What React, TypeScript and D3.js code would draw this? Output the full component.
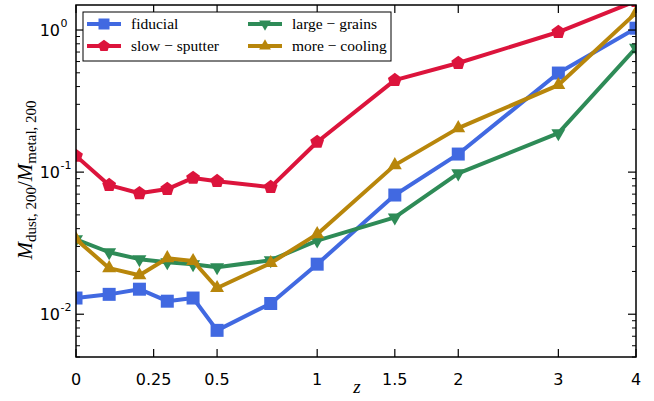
import React from "react";
import * as d3 from "d3";

const redshifts = [0, 0.1, 0.2, 0.3, 0.4, 0.5, 0.75, 1, 1.5, 2, 3, 4];
const fiducial = [0.0130, 0.0138, 0.0150, 0.01235, 0.0130, 0.0077, 0.0119, 0.0225, 0.069, 0.134, 0.498, 1.03];
const slowSputter = [0.130, 0.081, 0.071, 0.076, 0.091, 0.0864, 0.0784, 0.163, 0.444, 0.586, 0.968, 1.6];
const largeGrains = [0.0337, 0.0273, 0.0244, 0.0232, 0.0225, 0.0214, 0.024, 0.033, 0.048, 0.098, 0.188, 0.75];
const moreCooling = [0.0337, 0.0211, 0.0188, 0.0248, 0.0237, 0.0153, 0.0229, 0.0366, 0.112, 0.204, 0.41, 1.32];
const xTicks = [0, 0.25, 0.5, 1, 1.5, 2, 3, 4];
const xTickLabels = ["0", "0.25", "0.5", "1", "1.5", "2", "3", "4"];
const yMajor = [0.01, 0.1, 1];
const yMajorExp = ["-2", "-1", "0"];

const seriesNames = ["fiducial", "slow \u2212 sputter", "large \u2212 grains", "more \u2212 cooling"];
const seriesColors = ["#4169E1", "#DC143C", "#2E8B57", "#B8860B"];
const seriesMarkers = ["square", "pentagon", "tridown", "triup"];
const seriesData = [fiducial, slowSputter, largeGrains, moreCooling];

const L = 76, R = 636, T = 5, B = 357;

function markerPath(kind: string, s: number): string {
  if (kind === "square") {
    const h = s * 0.5;
    return `M${-h},${-h}H${h}V${h}H${-h}Z`;
  }
  if (kind === "pentagon") {
    const r = s * 0.56;
    const pts = d3.range(5).map((i) => {
      const a = -Math.PI / 2 + (i * 2 * Math.PI) / 5;
      return [r * Math.cos(a), r * Math.sin(a)];
    });
    return "M" + pts.map((p) => p.join(",")).join("L") + "Z";
  }
  const r = s * 0.62;
  if (kind === "triup") {
    return `M0,${-r}L${r * 0.866},${r * 0.5}L${-r * 0.866},${r * 0.5}Z`;
  }
  return `M0,${r}L${r * 0.866},${-r * 0.5}L${-r * 0.866},${-r * 0.5}Z`;
}

const tickFont: React.CSSProperties = { fontFamily: "DejaVu Sans, sans-serif" };
const serifFont: React.CSSProperties = { fontFamily: "Liberation Serif, DejaVu Serif, serif" };

export default function App() {
  const x = d3.scaleLog().domain([1, 5]).range([L, R]);
  const y = d3.scaleLog().domain([0.005, 1.5]).range([B, T]);
  const px = (z: number) => x(1 + z);

  const line = d3
    .line<number>()
    .x((_, i) => px(redshifts[i]))
    .y((d) => y(d));

  const minorY: number[] = [];
  for (const dec of [0.001, 0.01, 0.1, 1]) {
    for (let k = 2; k <= 9; k++) {
      const v = dec * k;
      if (v >= 0.005 && v <= 1.5) minorY.push(v);
    }
  }

  return (
    <svg width={654} height={401} style={{ display: "block", position: "absolute", left: 0, top: 0 }}>
      <defs>
        <clipPath id="plotclip">
          <rect x={L} y={T} width={R - L} height={B - T} />
        </clipPath>
      </defs>
      <rect x={0} y={0} width={654} height={401} fill="white" />

      <g clipPath="url(#plotclip)">
        {seriesData.map((data, si) => (
          <g key={si}>
            <path d={line(data) || ""} fill="none" stroke={seriesColors[si]} strokeWidth={4} strokeLinejoin="round" />
            {data.map((v, i) => (
              <path
                key={i}
                d={markerPath(seriesMarkers[si], 13)}
                transform={`translate(${px(redshifts[i])},${y(v)})`}
                fill={seriesColors[si]}
              />
            ))}
          </g>
        ))}
      </g>

      {xTicks.map((t, i) => (
        <g key={"xt" + i}>
          <line x1={px(t)} x2={px(t)} y1={B} y2={B - 8} stroke="black" strokeWidth={1.2} />
          <line x1={px(t)} x2={px(t)} y1={T} y2={T + 8} stroke="black" strokeWidth={1.2} />
          <text x={px(t)} y={B + 28} textAnchor="middle" style={tickFont} fontSize={16}>
            {xTickLabels[i]}
          </text>
        </g>
      ))}
      {yMajor.map((v, i) => (
        <g key={"ym" + i}>
          <line x1={L} x2={L + 8} y1={y(v)} y2={y(v)} stroke="black" strokeWidth={1.2} />
          <line x1={R} x2={R - 8} y1={y(v)} y2={y(v)} stroke="black" strokeWidth={1.2} />
          <text x={60} y={y(v) + 6} textAnchor="end" style={tickFont} fontSize={16}>
            10
          </text>
          <text x={60.5} y={y(v) - 3} textAnchor="start" style={tickFont} fontSize={11}>
            {yMajorExp[i]}
          </text>
        </g>
      ))}
      {minorY.map((v, i) => (
        <g key={"yn" + i}>
          <line x1={L} x2={L + 4} y1={y(v)} y2={y(v)} stroke="black" strokeWidth={1} />
          <line x1={R} x2={R - 4} y1={y(v)} y2={y(v)} stroke="black" strokeWidth={1} />
        </g>
      ))}

      <rect x={L} y={T} width={R - L} height={B - T} fill="none" stroke="black" strokeWidth={1.5} />

      <g>
        <rect x={83} y={12} width={308} height={49} fill="white" stroke="black" strokeWidth={1} />
        {seriesNames.map((name, si) => {
          const col = Math.floor(si / 2);
          const row = si % 2;
          const x0 = col === 0 ? 87 : 248;
          const yy = row === 0 ? 24 : 46;
          return (
            <g key={"lg" + si}>
              <line x1={x0} x2={x0 + 34} y1={yy} y2={yy} stroke={seriesColors[si]} strokeWidth={4} />
              <path d={markerPath(seriesMarkers[si], 11)} transform={`translate(${x0 + 17},${yy})`} fill={seriesColors[si]} />
              <text x={x0 + 44} y={yy + 5} style={serifFont} fontSize={15.5}>
                {name}
              </text>
            </g>
          );
        })}
      </g>

      <text x={357} y={393} textAnchor="middle" style={serifFont} fontSize={19} fontStyle="italic">
        z
      </text>
      <g transform="translate(32,180) rotate(-90)">
        <text textAnchor="middle" style={serifFont} fontSize={21}>
          <tspan fontStyle="italic">M</tspan>
          <tspan fontSize={15} dy={4}>dust, 200</tspan>
          <tspan dy={-4}>/</tspan>
          <tspan fontStyle="italic">M</tspan>
          <tspan fontSize={15} dy={4}>metal, 200</tspan>
        </text>
      </g>
    </svg>
  );
}
